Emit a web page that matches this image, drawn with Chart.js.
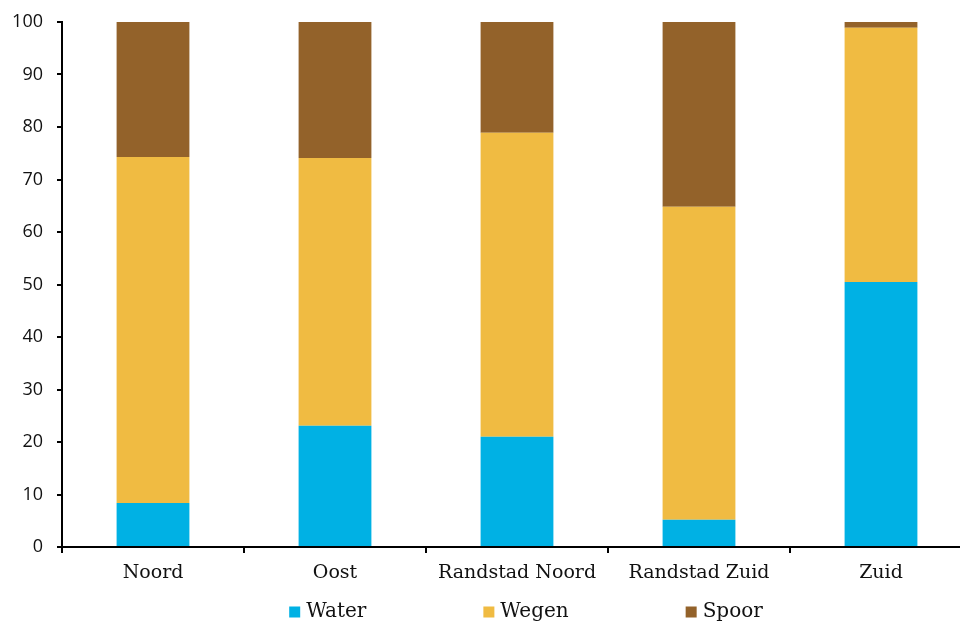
<!DOCTYPE html>
<html>
<head>
<meta charset="utf-8">
<script src="https://cdn.jsdelivr.net/npm/chart.js@4"></script>
<style>
  html, body { margin: 0; padding: 0; background: #fff; overflow: hidden; }
  #wrap { width: 975px; height: 621px; }
</style>
</head>
<body>
<div id="wrap"><canvas id="regioChart"></canvas></div>
<script>
const regions = ['Noord', 'Oost', 'Randstad Noord', 'Randstad Zuid', 'Zuid'];
const water = [8.4, 23.1, 21.0, 5.2, 50.5];
const wegen = [65.9, 51.0, 57.9, 59.6, 48.4];
const spoor = [25.7, 25.9, 21.1, 35.2, 1.1];
const yTicks = [0, 10, 20, 30, 40, 50, 60, 70, 80, 90, 100];

const serif = "'DejaVu Serif', serif";
const sans = "'Open Sans', sans-serif";

// legend drawn by hand so the items can sit far apart under the plot
const spreadLegend = {
    id: 'spreadLegend',
    afterDraw(chart) {
        const ctx = chart.ctx;
        const area = chart.chartArea;
        const box = 11, gap = 6, spacing = 117;
        ctx.save();
        ctx.font = '20px ' + serif;
        const items = chart.data.datasets.map(ds => ({
            text: ds.label,
            color: ds.backgroundColor,
            w: box + gap + ctx.measureText(ds.label).width
        }));
        const total = items.reduce((s, it) => s + it.w, 0) + spacing * (items.length - 1);
        let x = (area.left + area.right) / 2 - total / 2 + 9;
        const y = 612;
        ctx.textBaseline = 'middle';
        ctx.textAlign = 'left';
        items.forEach(it => {
            ctx.fillStyle = it.color;
            ctx.fillRect(x, y - box / 2, box, box);
            ctx.fillStyle = '#111';
            ctx.fillText(it.text, x + box + gap, y);
            x += it.w + spacing;
        });
        ctx.restore();
    }
};

new Chart(document.getElementById('regioChart'), {
    type: 'bar',
    data: {
        labels: regions,
        datasets: [
            { label: 'Water', data: water, backgroundColor: '#00b1e4' },
            { label: 'Wegen', data: wegen, backgroundColor: '#f0bb42' },
            { label: 'Spoor', data: spoor, backgroundColor: '#93622a' }
        ]
    },
    options: {
        responsive: true,
        maintainAspectRatio: false,
        animation: false,
        layout: { padding: { top: 22, right: 3, bottom: 34, left: 0 } },
        datasets: { bar: { barPercentage: 0.4, categoryPercentage: 1, borderWidth: 0 } },
        plugins: {
            legend: { display: false },
            tooltip: { enabled: false }
        },
        scales: {
            x: {
                stacked: true,
                offset: true,
                afterFit: s => { s.height = 40; s.paddingLeft = 0; s.paddingRight = 0; },
                grid: {
                    offset: true,
                    drawOnChartArea: false,
                    color: '#000',
                    lineWidth: 2,
                    tickLength: 6
                },
                border: { color: '#000', width: 2 },
                ticks: { color: '#111', padding: 9, font: { family: serif, size: 19 } }
            },
            y: {
                stacked: true,
                min: 0,
                max: 100,
                afterFit: s => { s.width = 62; s.paddingTop = 0; s.paddingBottom = 0; },
                afterBuildTicks: s => { s.ticks = yTicks.map(v => ({ value: v })); },
                grid: {
                    drawOnChartArea: false,
                    color: '#000',
                    lineWidth: 2,
                    tickLength: 5
                },
                border: { color: '#000', width: 2 },
                ticks: { color: '#111', padding: 14, font: { family: sans, size: 18 } }
            }
        }
    },
    plugins: [spreadLegend]
});
</script>
</body>
</html>
